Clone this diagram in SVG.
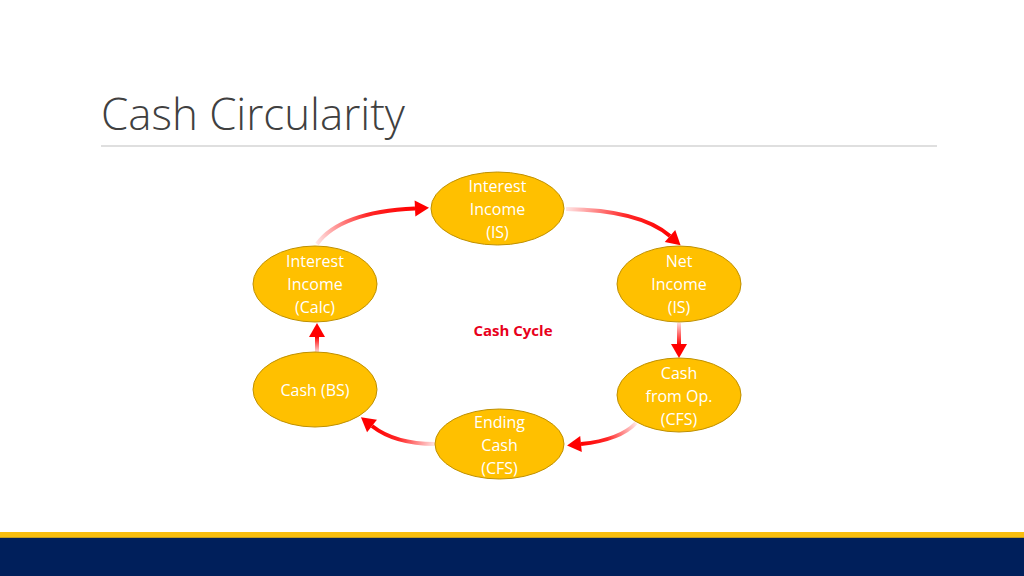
<svg xmlns="http://www.w3.org/2000/svg" width="1024" height="576" viewBox="0 0 1024 576">
<style>
.node ellipse{fill:#FFC000;stroke:#BF9000;stroke-width:1}
.node text{font-family:"Open Sans","Liberation Sans",sans-serif;font-size:16px;fill:#FFFFFF;text-anchor:middle}
.conn path{fill:none;stroke-width:4}
</style>
<defs>
<marker id="head" markerUnits="userSpaceOnUse" markerWidth="18" markerHeight="18" viewBox="0 -9 15 18" refX="0" refY="0" orient="auto">
<path d="M0,-8 L14,0 L0,8 z" fill="#FF0000"/>
</marker>
<linearGradient id="g1" gradientUnits="userSpaceOnUse" x1="317" y1="244" x2="416" y2="209"><stop offset="0" stop-color="#FF0000" stop-opacity="0.1"/><stop offset="0.55" stop-color="#FF0000" stop-opacity="0.85"/><stop offset="1" stop-color="#FF0000"/></linearGradient>
<linearGradient id="g2" gradientUnits="userSpaceOnUse" x1="566" y1="209" x2="671" y2="237"><stop offset="0" stop-color="#FF0000" stop-opacity="0.1"/><stop offset="0.55" stop-color="#FF0000" stop-opacity="0.85"/><stop offset="1" stop-color="#FF0000"/></linearGradient>
<linearGradient id="g3" gradientUnits="userSpaceOnUse" x1="679" y1="323" x2="679" y2="345"><stop offset="0" stop-color="#FF0000" stop-opacity="0.15"/><stop offset="1" stop-color="#FF0000"/></linearGradient>
<linearGradient id="g4" gradientUnits="userSpaceOnUse" x1="636" y1="423" x2="580" y2="444"><stop offset="0" stop-color="#FF0000" stop-opacity="0.1"/><stop offset="0.55" stop-color="#FF0000" stop-opacity="0.85"/><stop offset="1" stop-color="#FF0000"/></linearGradient>
<linearGradient id="g5" gradientUnits="userSpaceOnUse" x1="435" y1="444" x2="372" y2="426"><stop offset="0" stop-color="#FF0000" stop-opacity="0.1"/><stop offset="0.55" stop-color="#FF0000" stop-opacity="0.85"/><stop offset="1" stop-color="#FF0000"/></linearGradient>
<linearGradient id="g6" gradientUnits="userSpaceOnUse" x1="317" y1="352" x2="317" y2="337"><stop offset="0" stop-color="#FF0000" stop-opacity="0.15"/><stop offset="1" stop-color="#FF0000"/></linearGradient>
</defs>
<rect width="1024" height="576" fill="#FFFFFF"/>
<text x="101" y="130" font-family="'Open Sans','Liberation Sans',sans-serif" font-weight="300" font-size="44" fill="#404040" textLength="304" lengthAdjust="spacingAndGlyphs">Cash Circularity</text>
<line x1="101" y1="146" x2="937" y2="146" stroke="#BFBFBF" stroke-width="1"/>
<g id="connectors" class="conn">
<path d="M317,244 Q340,212 415,208.5" stroke="url(#g1)" marker-end="url(#head)"/>
<path d="M566,209 Q640,210 670,236" stroke="url(#g2)" marker-end="url(#head)"/>
<path d="M679,323 L679,344" stroke="url(#g3)" marker-end="url(#head)"/>
<path d="M636,423 Q620,440 581,444" stroke="url(#g4)" marker-end="url(#head)"/>
<path d="M435,444 Q395,444 372,426" stroke="url(#g5)" marker-end="url(#head)"/>
<path d="M317,352 L317,337" stroke="url(#g6)" marker-end="url(#head)"/>
</g>
<g id="node-interest-is" class="node">
<ellipse cx="497.5" cy="208.5" rx="66.5" ry="36.5"/>
<text x="497.5" y="192">Interest</text>
<text x="497.5" y="215">Income</text>
<text x="497.5" y="238">(IS)</text>
</g>
<g id="node-net-income" class="node">
<ellipse cx="679" cy="284" rx="62" ry="38"/>
<text x="679" y="267">Net</text>
<text x="679" y="290">Income</text>
<text x="679" y="313">(IS)</text>
</g>
<g id="node-cash-from-op" class="node">
<ellipse cx="679" cy="395" rx="62" ry="37"/>
<text x="679" y="379">Cash</text>
<text x="679" y="402">from Op.</text>
<text x="679" y="425">(CFS)</text>
</g>
<g id="node-ending-cash" class="node">
<ellipse cx="499.5" cy="444" rx="64.5" ry="35"/>
<text x="499.5" y="428">Ending</text>
<text x="499.5" y="451">Cash</text>
<text x="499.5" y="474">(CFS)</text>
</g>
<g id="node-cash-bs" class="node">
<ellipse cx="315" cy="389.5" rx="62" ry="37.5"/>
<text x="315" y="396">Cash (BS)</text>
</g>
<g id="node-interest-calc" class="node">
<ellipse cx="315" cy="284" rx="62" ry="38"/>
<text x="315" y="267">Interest</text>
<text x="315" y="290">Income</text>
<text x="315" y="313">(Calc)</text>
</g>
<text x="513" y="336" font-family="'Open Sans','Liberation Sans',sans-serif" font-weight="bold" font-size="15" fill="#E8001C" text-anchor="middle">Cash Cycle</text>
<rect x="0" y="532" width="1024" height="6" fill="#F8BE0E"/>
<rect x="0" y="537.5" width="1024" height="1" fill="#8A7A30"/>
<rect x="0" y="538" width="1024" height="38" fill="#001F5B"/>
</svg>
